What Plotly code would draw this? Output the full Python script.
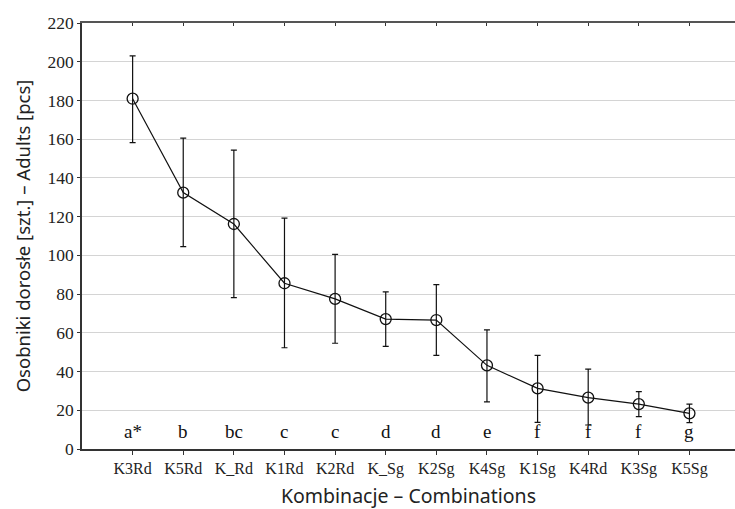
import plotly.graph_objects as go

categories = ["K3Rd", "K5Rd", "K_Rd", "K1Rd", "K2Rd", "K_Sg", "K2Sg", "K4Sg", "K1Sg", "K4Rd", "K3Sg", "K5Sg"]
means = [180.9, 132.4, 116.2, 85.6, 77.5, 67.1, 66.6, 43.2, 31.3, 26.5, 23.2, 18.4]
upper = [203.0, 160.5, 154.4, 119.2, 100.5, 81.1, 84.9, 61.5, 48.4, 41.2, 29.6, 23.2]
lower = [158.2, 104.5, 78.2, 52.3, 54.6, 53.0, 48.4, 24.3, 13.8, 12.4, 16.7, 13.6]
letters = ["a*", "b", "bc", "c", "c", "d", "d", "e", "f", "f", "f", "g"]
yticks = [0, 20, 40, 60, 80, 100, 120, 140, 160, 180, 200, 220]

xi = list(range(len(categories)))
err_plus = [u - m for u, m in zip(upper, means)]
err_minus = [m - l for m, l in zip(means, lower)]

serif = "Liberation Serif, Times New Roman, serif"
sans = "Noto Sans, Open Sans, sans-serif"

fig = go.Figure()
fig.add_trace(go.Scatter(
    x=xi, y=means, mode="lines+markers",
    line=dict(color="#111111", width=1.2),
    marker=dict(symbol="circle-open", size=11, color="#111111", line=dict(width=1.3)),
    error_y=dict(type="data", symmetric=False, array=err_plus, arrayminus=err_minus,
                 color="#111111", thickness=1.2, width=3),
    showlegend=False, hoverinfo="skip",
))
# invisible trace for top axis ticks
fig.add_trace(go.Scatter(x=xi, y=means, xaxis="x2", mode="markers",
                         marker=dict(opacity=0), showlegend=False, hoverinfo="skip"))

for i, t in enumerate(letters):
    fig.add_annotation(x=xi[i], y=9, text=t, showarrow=False, xref="x", yref="y",
                       font=dict(family=serif, size=19, color="#111111"), yanchor="middle")

xr = [-1, 11.9]
fig.update_layout(
    width=735, height=509,
    margin=dict(l=82, r=0, t=23, b=60),
    paper_bgcolor="white", plot_bgcolor="white",
    xaxis=dict(range=xr, tickvals=xi, ticktext=categories, showgrid=False, zeroline=False,
               automargin=False,
               showline=True, linecolor="#333333", linewidth=1.5,
               ticks="outside", ticklen=4, tickcolor="#333333",
               tickfont=dict(family=serif, size=16, color="#222222"),
               title=dict(text="Kombinacje – Combinations", font=dict(family=sans, size=19.5, color="#222222"),
                          standoff=14)),
    xaxis2=dict(range=xr, tickvals=xi, overlaying="x", side="top", anchor="y",
                automargin=False,
                showticklabels=False, showgrid=False, zeroline=False,
                showline=True, linecolor="#555555", linewidth=2,
                ticks="inside", ticklen=3, tickcolor="#333333"),
    yaxis=dict(range=[0, 220], tickvals=yticks, showgrid=True, gridcolor="#d4d4d4", gridwidth=1.2,
               automargin=False,
               zeroline=False, showline=True, linecolor="#333333", linewidth=1.5,
               ticks="outside", ticklen=3, tickcolor="#333333",
               tickfont=dict(family=serif, size=17.5, color="#222222"),
               title=dict(text="Osobniki dorosłe [szt.] – Adults [pcs]", font=dict(family=sans, size=18.5, color="#222222"),
                          standoff=12)),
)

fig.write_html("out.html", config={"displayModeBar": False},
               post_script="document.body.style.margin='0';document.body.style.overflow='hidden';")
